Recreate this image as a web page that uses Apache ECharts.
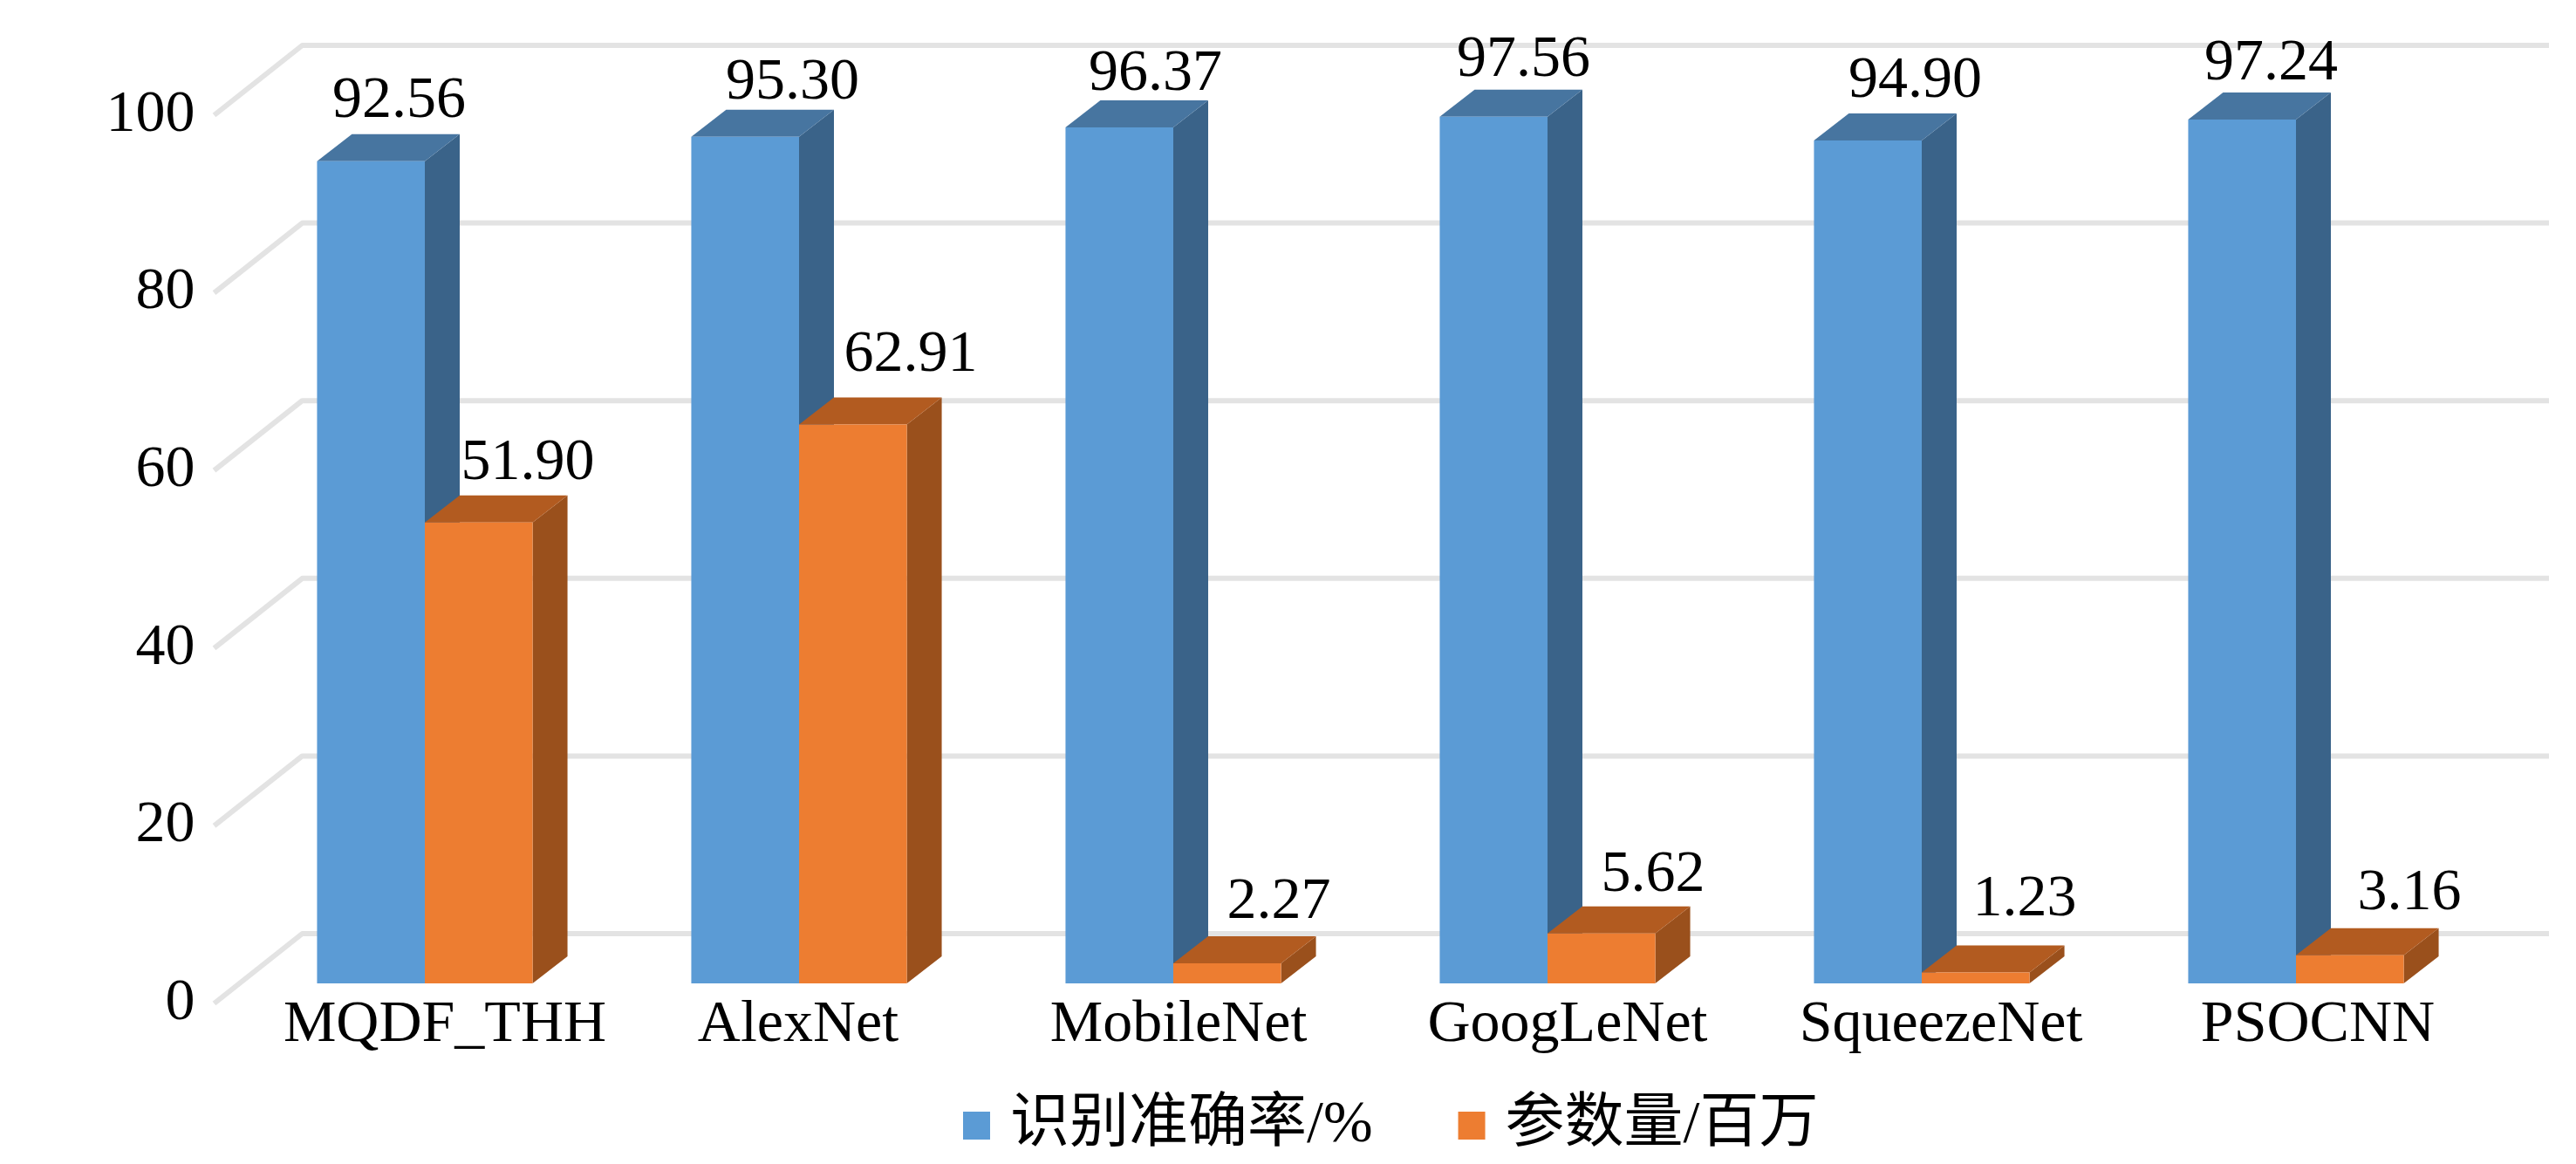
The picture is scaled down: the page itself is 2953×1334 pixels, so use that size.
<!DOCTYPE html>
<html><head><meta charset="utf-8">
<style>html,body{margin:0;padding:0;background:#fff}#c{width:2953px;height:1334px}</style>
<script src="https://cdn.jsdelivr.net/npm/echarts@6/dist/echarts.min.js"></script>
</head><body><div id="c"></div>
<script>
const categories = ['MQDF_THH','AlexNet','MobileNet','GoogLeNet','SqueezeNet','PSOCNN'];
const accuracy = [92.56,95.30,96.37,97.56,94.90,97.24];
const params = [51.90,62.91,2.27,5.62,1.23,3.16];
const yTicks = [0,20,40,60,80,100];
const accuracyName = '识别准确率/%';
const paramsName = '参数量/百万';

// presentation offsets only (pixels)
const catNudge = [23,-1,6,23,22,25];
const accLabelDx = [94,116,103,96,116,95];
const accLabelDy = [-69,-62,-61,-65,-68,-64];
const parLabelDx = [118,128,121,121,118,130];
const parLabelDy = [-68,-79,-70,-67,-83,-71];

const BASE_LIFT = 23, WALL_DX = 101, WALL_DY = 80, DEPTH_X = 40, DEPTH_Y = 31;
const FRAME_DX = 27, RIGHT = 2922;
const FONT = '"Liberation Serif","Noto Sans CJK SC",serif';

function bar3d(side, colors, dxArr, dyArr){
  return function(params_, api){
    const i = api.value(0), v = api.value(1);
    const p = api.coord([i, v]), b = api.coord([i, 0]);
    const w = api.size([1,0])[0] * 0.288;
    const x0 = side < 0 ? p[0]-w : p[0], x1 = x0 + w;
    const yT = p[1]-BASE_LIFT, yB = b[1]-BASE_LIFT;
    return {type:'group', children:[
      {type:'polygon', shape:{points:[[x1,yB],[x1+DEPTH_X,yB-DEPTH_Y],[x1+DEPTH_X,yT-DEPTH_Y],[x1,yT]]}, style:{fill:colors[2]}},
      {type:'polygon', shape:{points:[[x0,yT],[x0+DEPTH_X,yT-DEPTH_Y],[x1+DEPTH_X,yT-DEPTH_Y],[x1,yT]]}, style:{fill:colors[1]}},
      {type:'rect', shape:{x:x0,y:yT,width:w,height:yB-yT}, style:{fill:colors[0]}},
      {type:'text', z2:50, style:{text:v.toFixed(2), x:x0+dxArr[i], y:yT+dyArr[i], align:'center', verticalAlign:'middle',
        font:'68px '+FONT, fill:'#000'}}
    ]};
  };
}
const chart = echarts.init(document.getElementById('c'), null, {renderer:'canvas'});
const rich = {};
categories.forEach((c,i)=>{
  const n = catNudge[i];
  rich['n'+i] = {fontFamily:FONT,fontSize:68,color:'#000',padding:n>=0?[0,0,0,2*n]:[0,-2*n,0,0]};
});
chart.setOption({
  animation:false,
  backgroundColor:'#fff',
  grid:{left:272.5,width:2574,top:132,height:1018,containLabel:false},
  legend:{left:1099,top:1251,itemWidth:31,itemHeight:32,itemGap:98,icon:'rect',
    data:[accuracyName,paramsName],selectedMode:false,
    textStyle:{fontFamily:FONT,fontSize:68,color:'#000',padding:[0,0,0,18]}},
  xAxis:{type:'category',data:categories,axisLine:{show:false},axisTick:{show:false},splitLine:{show:false},
    axisLabel:{interval:0,margin:-9,fontFamily:FONT,fontSize:68,color:'#000',hideOverlap:false,
      formatter:(v,i)=>'{n'+i+'|'+v+'}',rich}},
  yAxis:{type:'value',min:0,max:100,interval:20,axisLine:{show:false},axisTick:{show:false},splitLine:{show:false},
    axisLabel:{margin:49,fontFamily:FONT,fontSize:68,color:'#000'}},
  series:[
    {name:'wall',type:'custom',silent:true,z:1,data:yTicks.map(t=>[0,t]),
     encode:{x:0,y:1},
     renderItem:(p,api)=>{
       const y = api.coord([0,api.value(1)])[1], x = api.coord([0,0])[0] - api.size([1,0])[0]/2 - FRAME_DX;
       return {type:'polyline',shape:{points:[[x,y],[x+WALL_DX,y-WALL_DY],[RIGHT,y-WALL_DY]]},
         style:{fill:null,stroke:'#e3e3e3',lineWidth:6,lineJoin:'round'}};
     }},
    {name:accuracyName,type:'custom',z:2,itemStyle:{color:'#5B9BD5'},encode:{x:0,y:1},
     data:accuracy.map((v,i)=>[i,v]),renderItem:bar3d(-1,['#5B9BD5','#4775A0','#3A6389'],accLabelDx,accLabelDy)},
    {name:paramsName,type:'custom',z:3,itemStyle:{color:'#ED7D31'},encode:{x:0,y:1},
     data:params.map((v,i)=>[i,v]),renderItem:bar3d(1,['#ED7D31','#B25B20','#9A501C'],parLabelDx,parLabelDy)}
  ]
});
</script></body></html>
